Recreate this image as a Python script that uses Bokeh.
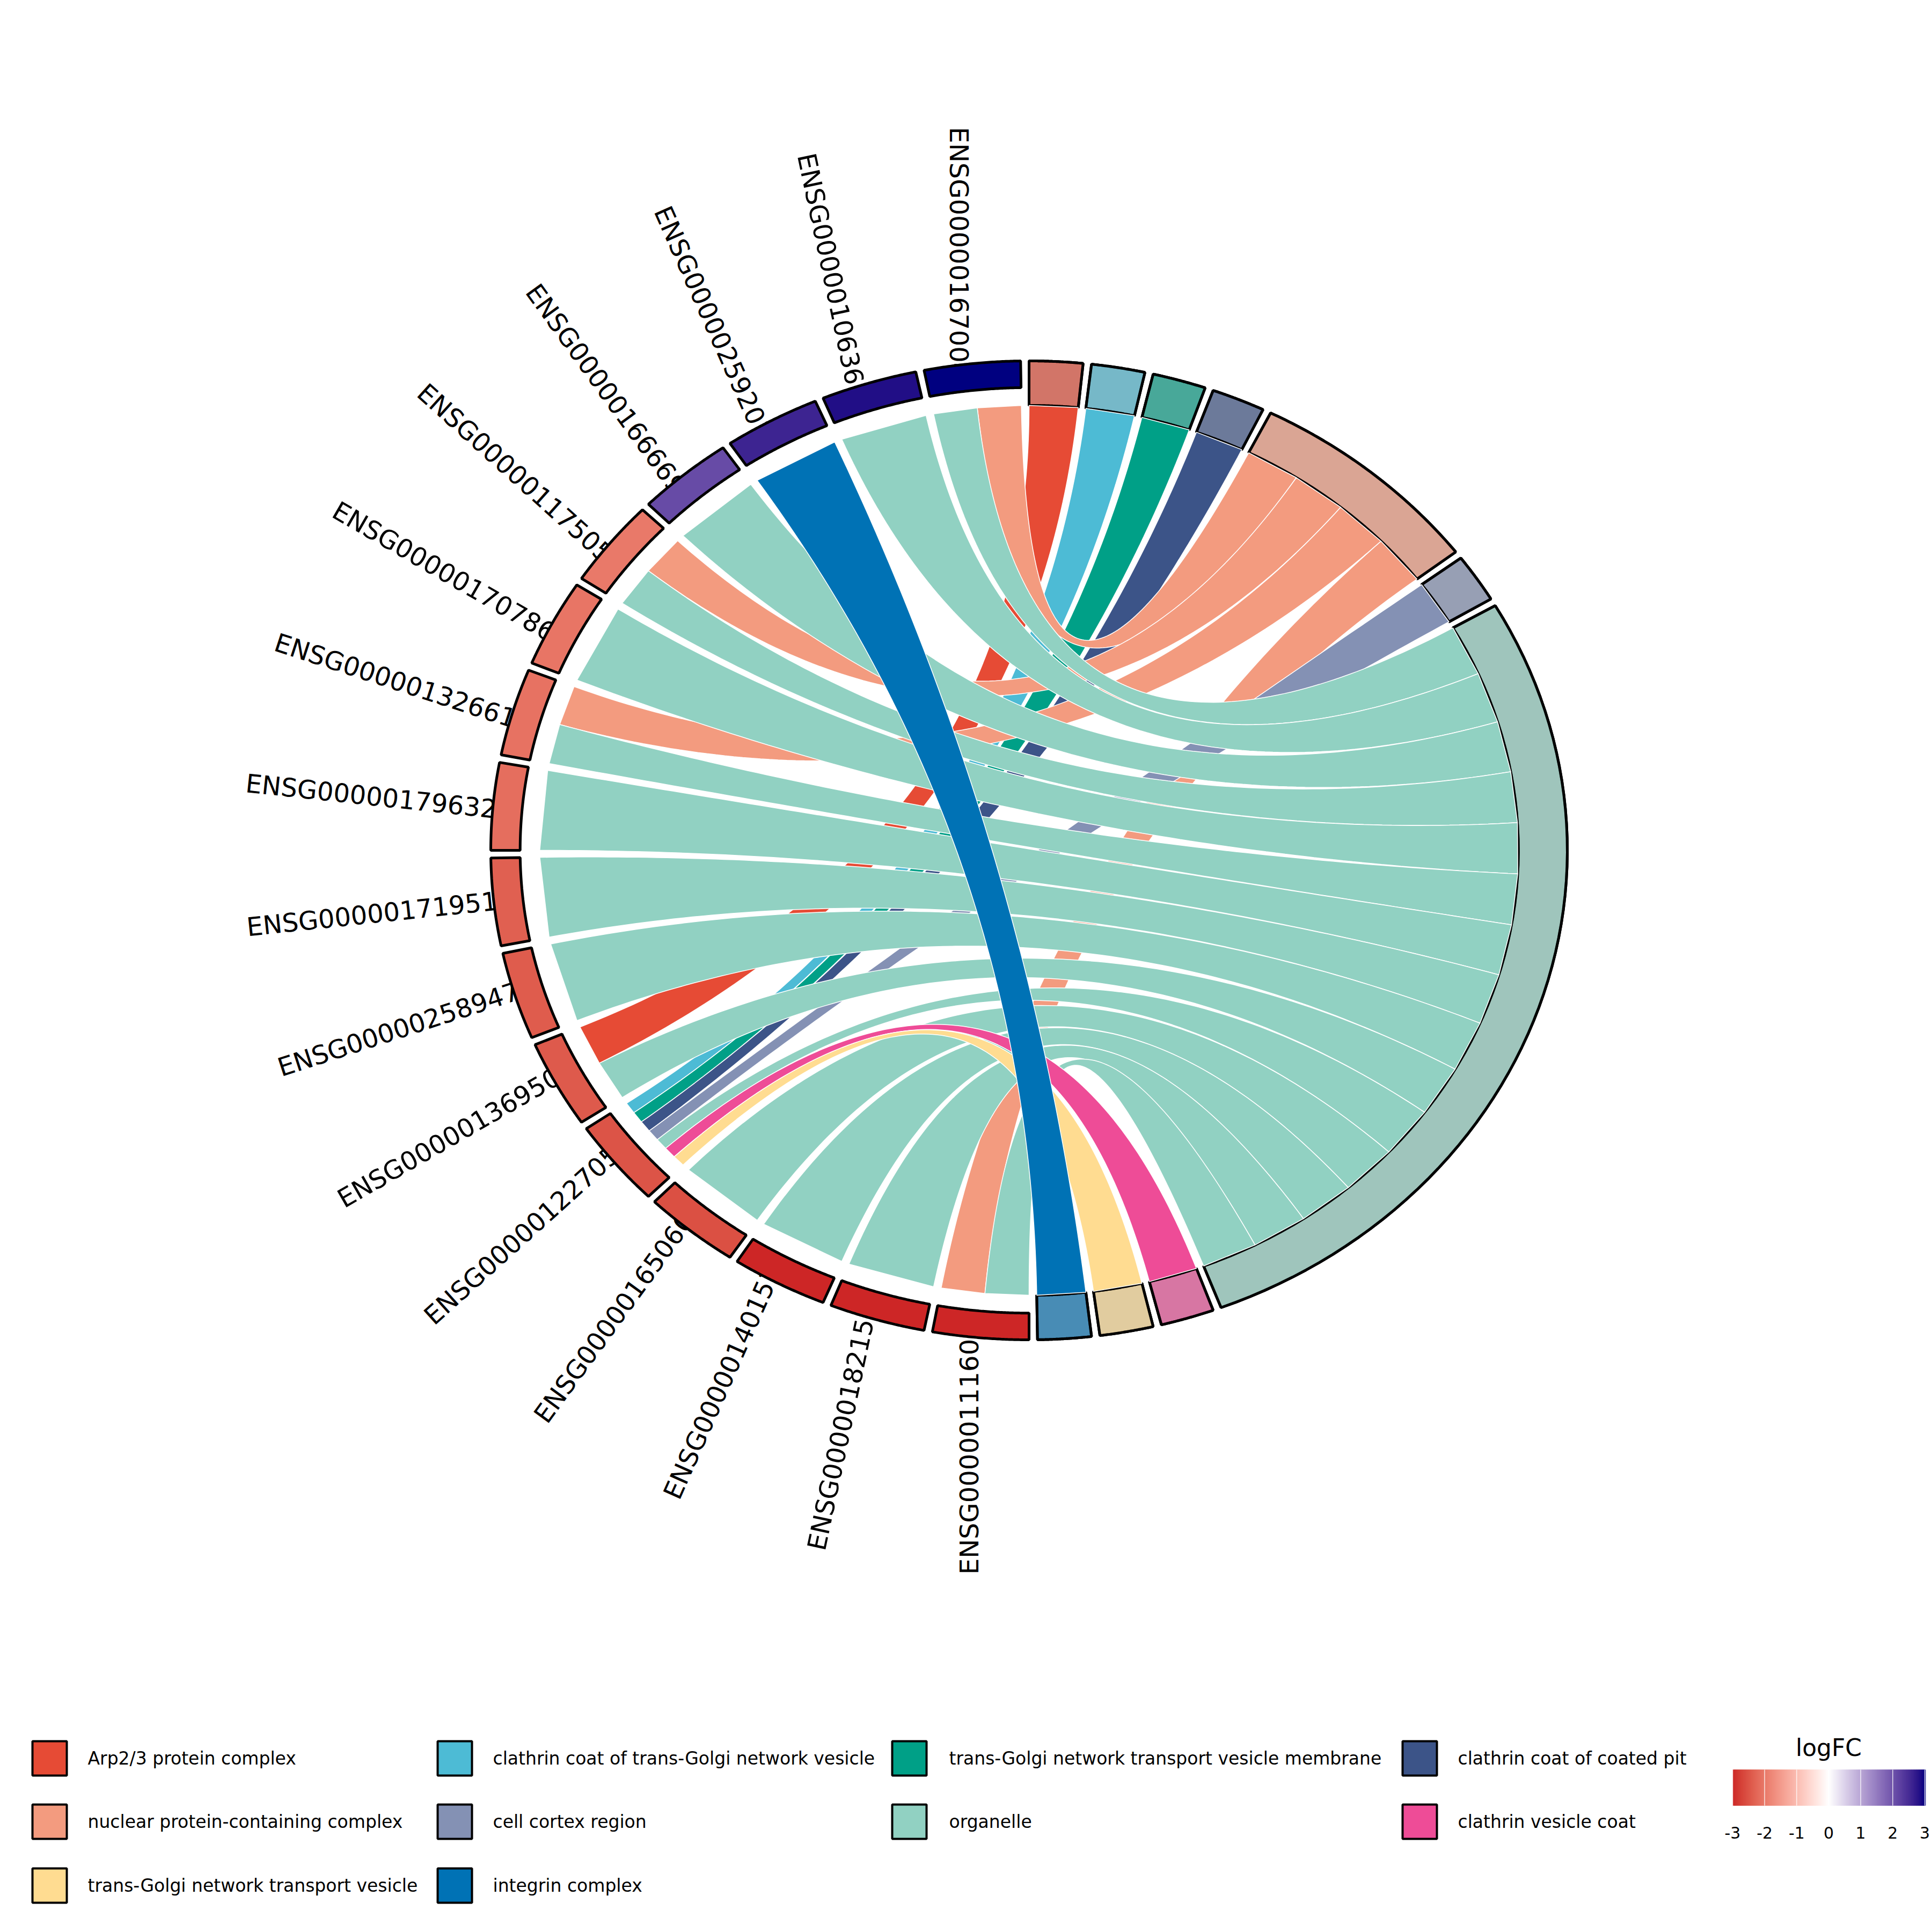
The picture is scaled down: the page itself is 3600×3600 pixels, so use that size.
import numpy as np
from bokeh.plotting import figure
from bokeh.models import Range1d, ColumnDataSource
from bokeh.core.properties import value
from bokeh.embed import file_html
from bokeh.resources import INLINE

# ---------------------------------------------------------------- data
genes = [
    "ENSG00000167004", "ENSG00000106366", "ENSG00000259207", "ENSG00000166669",
    "ENSG00000117505", "ENSG00000170786", "ENSG00000132661", "ENSG00000179632",
    "ENSG00000171951", "ENSG00000258947", "ENSG00000136950", "ENSG00000122705",
    "ENSG00000165060", "ENSG00000140157", "ENSG00000182157", "ENSG00000111602",
]
log_fc = [3.2, 2.85, 2.6, 2.1, -2.0, -2.05, -2.1, -2.15,
          -2.35, -2.4, -2.42, -2.5, -2.55, -3.0, -3.1, -3.2]

terms = [
    "Arp2/3 protein complex",
    "clathrin coat of trans-Golgi network vesicle",
    "trans-Golgi network transport vesicle membrane",
    "clathrin coat of coated pit",
    "nuclear protein-containing complex",
    "cell cortex region",
    "organelle",
    "clathrin vesicle coat",
    "trans-Golgi network transport vesicle",
    "integrin complex",
]
term_colors = ["#E64B35", "#4DBBD5", "#00A087", "#3C5488", "#F39B7F",
               "#8491B4", "#91D1C2", "#EE4C97", "#FFDC91", "#0072B5"]

gene_terms = [
    ["nuclear protein-containing complex", "organelle"],
    ["organelle"],
    ["integrin complex"],
    ["organelle"],
    ["nuclear protein-containing complex", "organelle"],
    ["organelle"],
    ["nuclear protein-containing complex", "organelle"],
    ["organelle"],
    ["organelle"],
    ["organelle"],
    ["Arp2/3 protein complex", "organelle"],
    ["clathrin coat of trans-Golgi network vesicle",
     "trans-Golgi network transport vesicle membrane",
     "clathrin coat of coated pit", "cell cortex region", "organelle",
     "clathrin vesicle coat", "trans-Golgi network transport vesicle"],
    ["organelle"],
    ["organelle"],
    ["organelle"],
    ["nuclear protein-containing complex", "organelle"],
]

lfc_ticks = [-3, -2, -1, 0, 1, 2, 3]
lfc_low, lfc_mid, lfc_high = "#CD2626", "#FFFFFF", "#000080"


# ---------------------------------------------------------------- colour helpers (Lab space ramp)
def hex_to_lab(h):
    rgb = [int(h[i:i + 2], 16) / 255.0 for i in (1, 3, 5)]
    lin = [c / 12.92 if c <= 0.04045 else ((c + 0.055) / 1.055) ** 2.4 for c in rgb]
    R, G, B = lin
    X = (0.4124564 * R + 0.3575761 * G + 0.1804375 * B) / 0.95047
    Y = (0.2126729 * R + 0.7151522 * G + 0.0721750 * B)
    Z = (0.0193339 * R + 0.1191920 * G + 0.9503041 * B) / 1.08883

    def f(t):
        return t ** (1 / 3) if t > 216 / 24389 else (24389 / 27 * t + 16) / 116
    fx, fy, fz = f(X), f(Y), f(Z)
    return np.array([116 * fy - 16, 500 * (fx - fy), 200 * (fy - fz)])


def lab_to_hex(lab):
    L, a, b = lab
    fy = (L + 16) / 116
    fx = fy + a / 500
    fz = fy - b / 200

    def finv(t):
        return t ** 3 if t ** 3 > 216 / 24389 else (116 * t - 16) / (24389 / 27)
    X, Y, Z = finv(fx) * 0.95047, finv(fy), finv(fz) * 1.08883
    R = 3.2404542 * X - 1.5371385 * Y - 0.4985314 * Z
    G = -0.9692660 * X + 1.8760108 * Y + 0.0415560 * Z
    B = 0.0556434 * X - 0.2040259 * Y + 1.0572252 * Z
    out = []
    for c in (R, G, B):
        c = max(0.0, min(1.0, c))
        c = 12.92 * c if c <= 0.0031308 else 1.055 * c ** (1 / 2.4) - 0.055
        out.append(int(round(c * 255)))
    return "#%02X%02X%02X" % tuple(out)


LAB_LOW, LAB_MID, LAB_HIGH = hex_to_lab(lfc_low), hex_to_lab(lfc_mid), hex_to_lab(lfc_high)


def lfc_color(v):
    v = max(-3.0, min(3.0, v))
    if v < 0:
        t = -v / 3.0
        return lab_to_hex(LAB_MID + (LAB_LOW - LAB_MID) * t)
    t = v / 3.0
    return lab_to_hex(LAB_MID + (LAB_HIGH - LAB_MID) * t)


# ---------------------------------------------------------------- chord geometry
N, M = len(genes), len(terms)
member = np.zeros((N, M), dtype=int)
for i, ts in enumerate(gene_terms):
    for t in ts:
        member[i, terms.index(t)] = 1
nrib = member.sum(axis=0)
ngen = member.sum(axis=1)

space = np.deg2rad(0.9)
r1, r2 = 1.0, 1.1
r_gene_in = 1.04
gene_space = 0.35


def arc_box(a0, a1, ra, rb, n=60):
    h = np.linspace(a0, a1, n)
    xs = np.concatenate([np.sin(h) * ra, np.sin(h[::-1]) * rb])
    ys = np.concatenate([np.cos(h) * ra, np.cos(h[::-1]) * rb])
    return list(xs), list(ys)


# term sectors: clockwise from the top
t_start, t_width = [], []
acc = 0.0
for r in range(M):
    perc = nrib[r] / nrib.sum()
    t_start.append(acc)
    t_width.append(np.pi * perc - space)
    acc += np.pi * perc

# gene sectors: counter-clockwise from the top
g_start = np.linspace(-space, -np.pi + np.pi / N - space, N)
g_width = -np.pi / N + space

# ribbon ends on the gene side
ends = []
for gs in range(N):
    val = np.linspace(g_start[gs], g_start[gs] + g_width, ngen[gs] + 1)
    pros = np.where(member[gs] == 1)[0]
    for v in range(len(val) - 1):
        ends.append((np.sin(val[v]), np.cos(val[v]), pros[v]))
        ends.append((np.sin(val[v + 1]), np.cos(val[v + 1]), pros[v]))
order = sorted(range(len(ends)), key=lambda k: (ends[k][2], -ends[k][1]))
ends = [ends[k] for k in order]

starts = []
for rs in range(M):
    val = np.linspace(t_start[rs], t_start[rs] + t_width[rs], nrib[rs] + 1)
    for v in range(len(val) - 1):
        starts.append((np.sin(val[v]), np.cos(val[v])))
        starts.append((np.sin(val[v + 1]), np.cos(val[v + 1])))

tt = np.linspace(0, 1, 101)
rib_xs, rib_ys, rib_col = [], [], []
for n in range(0, len(ends), 2):
    sx1, sy1 = starts[n]
    sx2, sy2 = starts[n + 1]
    ex1, ey1, pid = ends[n]
    ex2, ey2, _ = ends[n + 1]
    bx1 = (1 - tt) ** 2 * sx1 + tt ** 2 * ex1
    by1 = (1 - tt) ** 2 * sy1 + tt ** 2 * ey1
    bx2 = (1 - tt) ** 2 * sx2 + tt ** 2 * ex2
    by2 = (1 - tt) ** 2 * sy2 + tt ** 2 * ey2
    rib_xs.append(list(np.concatenate([bx1, bx2[::-1]])))
    rib_ys.append(list(np.concatenate([by1, by2[::-1]])))
    rib_col.append(term_colors[pid])

# ---------------------------------------------------------------- canvas
W = H = 3600
CX, CY = 1917.0, 1584.0
SX, SY = 1003.0 / 1.1, 912.0 / 1.1


def px(v):
    return (v - CX) / SX


def py(v):
    return (CY - v) / SY


p = figure(width=W, height=H, x_range=Range1d(px(0), px(W)), y_range=Range1d(py(H), py(0)),
           output_backend="svg", toolbar_location=None, min_border=0)
p.axis.visible = False
p.grid.visible = False
p.outline_line_color = None
p.background_fill_color = "white"
p.border_fill_color = "white"

FONT = value("DejaVu Sans")

# term boxes: grey base, then the term colour at 60 % opacity
tb_xs, tb_ys = [], []
for r in range(M):
    xs, ys = arc_box(t_start[r], t_start[r] + t_width[r], r1, r2)
    tb_xs.append(xs)
    tb_ys.append(ys)
p.patches(tb_xs, tb_ys, fill_color="#B3B3B3", line_color="black", line_width=5)
p.patches(tb_xs, tb_ys, fill_color=term_colors, fill_alpha=0.6, line_color="black", line_width=5)

# gene labels
ang_deg = [o + 270 if o + 270 <= 360 else o - 90 for o in np.linspace(0, 180, N)]
lab_src = ColumnDataSource(dict(
    x=[(r1 + gene_space) * np.sin(g_start[i] + g_width / 2) for i in range(N)],
    y=[(r1 + gene_space) * np.cos(g_start[i] + g_width / 2) for i in range(N)],
    text=genes,
    angle=[np.deg2rad(a) for a in ang_deg],
))
p.text(x="x", y="y", text="text", angle="angle", source=lab_src, text_align="center",
       text_baseline="middle", text_font=FONT, text_font_size=value("48px"), text_color="black")

# ribbons
p.patches(rib_xs, rib_ys, fill_color=rib_col, line_color="white", line_width=1.5)

# gene boxes coloured by logFC
gb_xs, gb_ys = [], []
for i in range(N):
    xs, ys = arc_box(g_start[i], g_start[i] + g_width, r_gene_in, r2)
    gb_xs.append(xs)
    gb_ys.append(ys)
p.patches(gb_xs, gb_ys, fill_color=[lfc_color(v) for v in log_fc], line_color="black", line_width=5)

# ---------------------------------------------------------------- term legend (4 columns, by row)
key_left = [60, 815, 1662, 2613]
text_left = [163, 918, 1768, 2716]
row_mid = [3276, 3394, 3513]
key_half = 32
for k, name in enumerate(terms):
    r, c = divmod(k, 4)
    p.quad(left=px(key_left[c]), right=px(key_left[c] + 2 * key_half),
           top=py(row_mid[r] - key_half), bottom=py(row_mid[r] + key_half),
           fill_color=term_colors[k], line_color="black", line_width=4)
    p.text(x=[px(text_left[c])], y=[py(row_mid[r])], text=[name], text_align="left",
           text_baseline="middle", text_font=FONT, text_font_size=value("33px"), text_color="black")

# ---------------------------------------------------------------- logFC colour bar
bar_l, bar_r, bar_t, bar_b = 3228, 3586, 3297, 3364
nb = 240
edges = np.linspace(lfc_ticks[0], lfc_ticks[-1], nb + 1)
bar_x = np.linspace(bar_l, bar_r, nb + 1)
p.quad(left=[px(v) for v in bar_x[:-1]], right=[px(v) + 0.002 for v in bar_x[1:]],
       top=py(bar_t), bottom=py(bar_b),
       fill_color=[lfc_color((edges[i] + edges[i + 1]) / 2) for i in range(nb)], line_color=None)
tick_px = [bar_l + (t - lfc_ticks[0]) / (lfc_ticks[-1] - lfc_ticks[0]) * (bar_r - bar_l) for t in lfc_ticks]
p.segment(x0=[px(v) for v in tick_px], x1=[px(v) for v in tick_px],
          y0=py(bar_t), y1=py(bar_b), line_color="white", line_width=1.5, line_alpha=0.8)
p.text(x=[px(v) for v in tick_px], y=py(3414), text=[str(t) for t in lfc_ticks], text_align="center",
       text_baseline="middle", text_font=FONT, text_font_size=value("30px"), text_color="black")
p.text(x=[px((bar_l + bar_r) / 2)], y=[py(3256)], text=["logFC"], text_align="center",
       text_baseline="middle", text_font=FONT, text_font_size=value("44px"), text_color="black")

open("out.html", "w").write(file_html(p, INLINE))
